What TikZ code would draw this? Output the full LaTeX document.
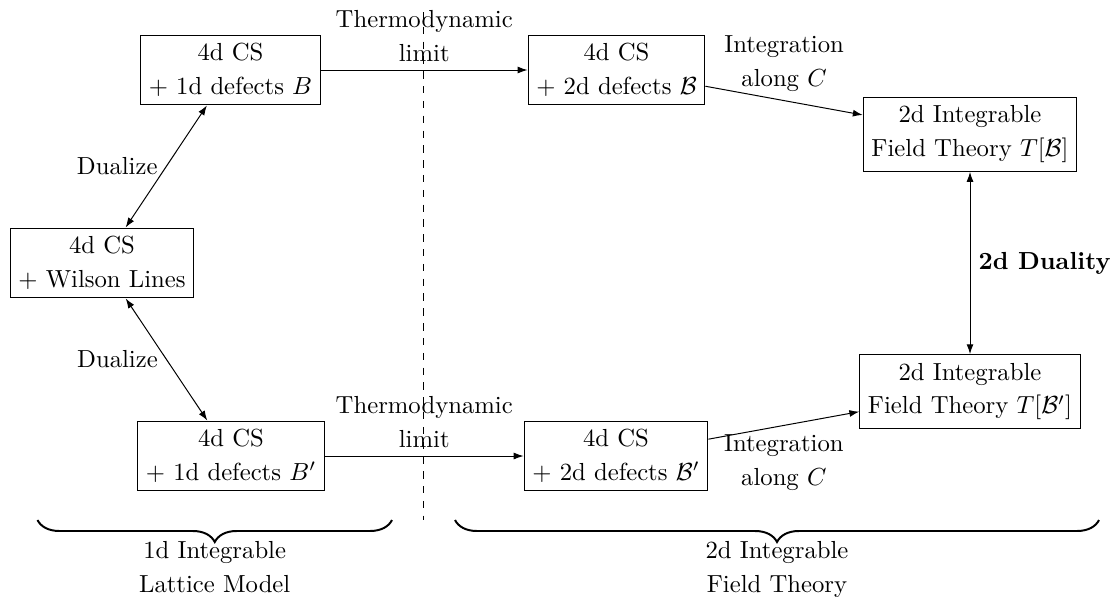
\documentclass[tikz,border=0pt]{standalone}
\usetikzlibrary{decorations.pathreplacing,calc,arrows.meta}
\begin{document}
\begin{tikzpicture}[x=0.405pt,y=-0.405pt,>={Latex[length=4pt,width=2.8pt]},
  box/.style={draw, align=center, font=\linespread{1.147}\selectfont},
  lbl/.style={align=center, font=\linespread{1.147}\selectfont},
  brc/.style={decorate, decoration={brace, amplitude=8.9pt, mirror}, thick}]
\useasboundingbox (0,0) rectangle (1116,596);

\node[box] (A)  at (230.5,70)  {4d CS\\+ 1d defects $B$};
\node[box] (W)  at (102,263)   {4d CS\\+ Wilson Lines};
\node[box] (A2) at (231,456)   {4d CS\\+ 1d defects $B'$};
\node[box] (C)  at (616.5,70)  {4d CS\\+ 2d defects $\mathcal{B}$};
\node[box] (C2) at (616,456)   {4d CS\\+ 2d defects $\mathcal{B}'$};
\node[box] (D)  at (970,134.5) {2d Integrable\\Field Theory $T[\mathcal{B}]$};
\node[box] (D2) at (970,391.5) {2d Integrable\\Field Theory $T[\mathcal{B}']$};

\draw[<->] (A) -- node[lbl, left] {Dualize} (W);
\draw[<->] (W) -- node[lbl, left] {Dualize} (A2);
\draw[->] (A) -- node[lbl, above] {Thermodynamic\\limit} (C);
\draw[->] (A2) -- node[lbl, above] {Thermodynamic\\limit} (C2);
\draw[->] (C) -- node[lbl, above] {Integration\\along $C$} (D);
\draw[->] (C2) -- node[lbl, below] {Integration\\along $C$} (D2);
\draw[<->] (D) -- node[lbl, right] {\textbf{2d Duality}} (D2);

\coordinate (dt) at (423.3,12);
\coordinate (db) at (423.3,520);
\draw[dashed] (dt) -- (db);

\coordinate (b1s) at (37.5,520);
\coordinate (b1e) at (392,520);
\coordinate (b2s) at (455,520);
\coordinate (b2e) at (1099,520);
\draw[brc] (b1s) -- (b1e);
\draw[brc] (b2s) -- (b2e);
\node[lbl, anchor=north] (L1) at (214.7,532.7) {1d Integrable\\Lattice Model};
\node[lbl, anchor=north] (L2) at (777,532.4) {2d Integrable\\Field Theory};
\end{tikzpicture}
\end{document}
